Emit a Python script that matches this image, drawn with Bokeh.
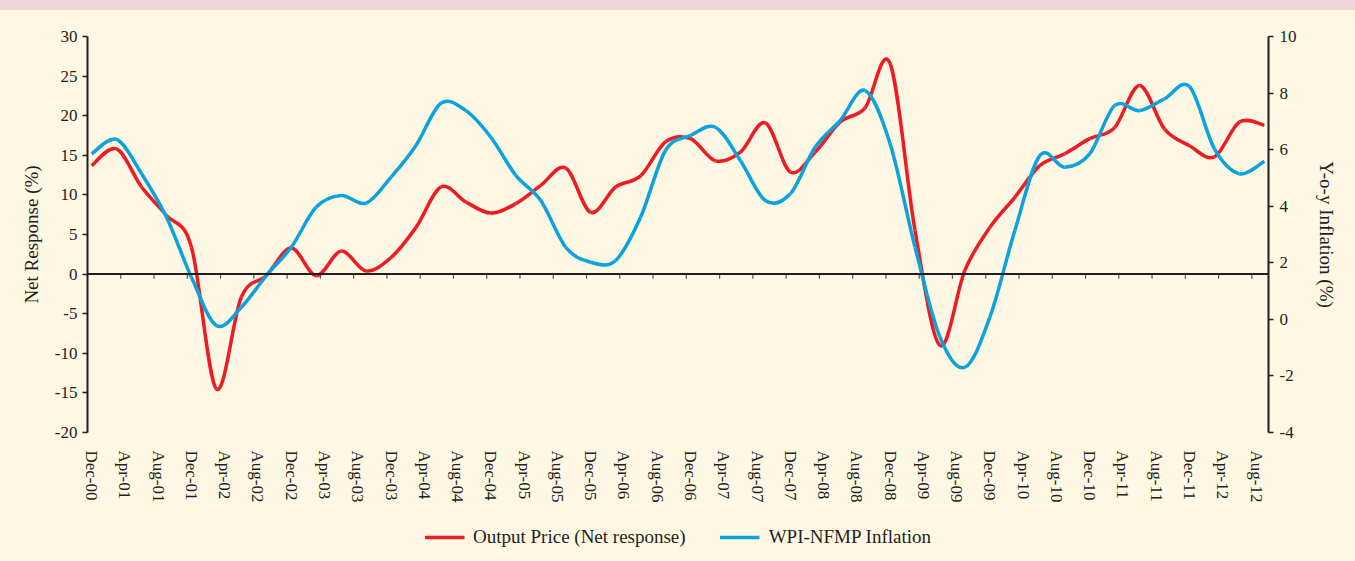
from bokeh.plotting import figure
from bokeh.models import (Range1d, LinearAxis, FixedTicker, Span, Legend, LegendItem, Div)
from bokeh.layouts import column
from bokeh.embed import file_html
from bokeh.resources import INLINE

# ---------------- data (quarterly, Dec-00 .. Sep-12) ----------------
output_price = [13.7, 15.8, 11.0, 7.4, 3.4, -14.5, -2.9, -0.2, 3.3, -0.2, 2.9, 0.4,
                2.1, 5.9, 11.0, 9.1, 7.7, 8.9, 11.2, 13.4, 7.8, 11.0, 12.4, 16.7,
                17.1, 14.3, 15.4, 19.1, 12.9, 15.4, 19.2, 21.0, 26.6, 5.5, -9.0, 0.5,
                5.9, 9.7, 13.7, 15.2, 17.1, 18.5, 23.8, 18.3, 16.2, 14.8, 19.2, 18.8]
wpi_nfmp = [5.85, 6.36, 5.15, 3.61, 1.49, -0.22, 0.43, 1.55, 2.55, 3.97, 4.38, 4.11,
            5.03, 6.15, 7.64, 7.38, 6.44, 5.09, 4.2, 2.55, 2.02, 2.08, 3.61, 5.97,
            6.5, 6.79, 5.62, 4.2, 4.44, 6.09, 7.03, 8.09, 6.21, 2.55, -0.63, -1.69,
            0.08, 3.14, 5.79, 5.38, 5.85, 7.56, 7.38, 7.8, 8.23, 6.03, 5.15, 5.59]
# month offset from Dec-00 for each quarterly observation
months = [3 * i for i in range(len(output_price))]

tick_labels = ["Dec-00", "Apr-01", "Aug-01", "Dec-01", "Apr-02", "Aug-02", "Dec-02",
               "Apr-03", "Aug-03", "Dec-03", "Apr-04", "Aug-04", "Dec-04", "Apr-05",
               "Aug-05", "Dec-05", "Apr-06", "Aug-06", "Dec-06", "Apr-07", "Aug-07",
               "Dec-07", "Apr-08", "Aug-08", "Dec-08", "Apr-09", "Aug-09", "Dec-09",
               "Apr-10", "Aug-10", "Dec-10", "Apr-11", "Aug-11", "Dec-11", "Apr-12",
               "Aug-12"]
label_months = [4 * i for i in range(len(tick_labels))]
left_ticks = [-20, -15, -10, -5, 0, 5, 10, 15, 20, 25, 30]
right_ticks = [-4, -2, 0, 2, 4, 6, 8, 10]
series_names = ["Output Price (Net response)", "WPI-NFMP Inflation"]

# ---------------- styling ----------------
BG = "#fdf7e3"
BAND = "#efd5d9"
INK = "#231f20"
RED = "#ed1c24"
BLUE = "#0ba3de"
FONT = "Liberation Serif"


def smooth_bezier(xs, ys):
    """Control points for a Catmull-Rom style smoothed line (Excel-like)."""
    n = len(xs)
    X = [xs[0]] + list(xs) + [xs[-1]]
    Y = [ys[0]] + list(ys) + [ys[-1]]
    d = dict(x0=[], y0=[], x1=[], y1=[], cx0=[], cy0=[], cx1=[], cy1=[])
    for i in range(1, n):
        d["x0"].append(X[i]); d["y0"].append(Y[i])
        d["x1"].append(X[i + 1]); d["y1"].append(Y[i + 1])
        d["cx0"].append(X[i] + (X[i + 1] - X[i - 1]) / 6.0)
        d["cy0"].append(Y[i] + (Y[i + 1] - Y[i - 1]) / 6.0)
        d["cx1"].append(X[i + 1] - (X[i + 2] - X[i]) / 6.0)
        d["cy1"].append(Y[i + 1] - (Y[i + 2] - Y[i]) / 6.0)
    return d


def hyphen_labels(ticks):
    return {t: str(t) for t in ticks}


p = figure(frame_width=1181, frame_height=396,
           x_range=Range1d(-0.5, 141.5), y_range=Range1d(-20, 30),
           output_backend="svg", toolbar_location=None,
           min_border_left=87, min_border_right=87,
           min_border_top=26, min_border_bottom=80,
           background_fill_color=BG, border_fill_color=BG,
           outline_line_color=None, margin=0)
p.extra_y_ranges = {"infl": Range1d(-4, 10)}
p.xgrid.visible = False
p.ygrid.visible = False

# x axis: only labels at bottom
xa = p.xaxis[0]
xa.ticker = FixedTicker(ticks=label_months)
xa.major_label_overrides = {m: t for m, t in zip(label_months, tick_labels)}
xa.major_label_orientation = "vertical"
xa.axis_line_color = None
xa.major_tick_line_color = None
xa.minor_tick_line_color = None
xa.major_label_standoff = 12
xa.major_label_text_font = FONT
xa.major_label_text_font_size = "17px"
xa.major_label_text_color = INK

# left axis
ya = p.yaxis[0]
ya.ticker = FixedTicker(ticks=left_ticks)
ya.major_label_overrides = hyphen_labels(left_ticks)
ya.axis_label = "Net Response (%)"
ya.axis_label_text_font = FONT
ya.axis_label_text_font_style = "normal"
ya.axis_label_text_font_size = "19px"
ya.axis_label_text_color = INK
ya.axis_label_standoff = 10
ya.major_label_text_font = FONT
ya.major_label_text_font_size = "17px"
ya.major_label_text_color = INK
ya.axis_line_color = INK
ya.axis_line_width = 2
ya.major_tick_line_color = INK
ya.major_tick_line_width = 1.5
ya.major_tick_in = 0
ya.major_tick_out = 5
ya.minor_tick_line_color = None
ya.major_label_standoff = 5

# right axis
ra = LinearAxis(y_range_name="infl", ticker=FixedTicker(ticks=right_ticks),
                axis_label="Y-o-y Inflation (%)")
ra.major_label_overrides = hyphen_labels(right_ticks)
ra.axis_label_text_font = FONT
ra.axis_label_text_font_style = "normal"
ra.axis_label_text_font_size = "19px"
ra.axis_label_text_color = INK
ra.axis_label_standoff = 16
ra.major_label_text_font = FONT
ra.major_label_text_font_size = "17px"
ra.major_label_text_color = INK
ra.axis_line_color = INK
ra.axis_line_width = 2
ra.major_tick_line_color = INK
ra.major_tick_line_width = 1.5
ra.major_tick_in = 0
ra.major_tick_out = 5
ra.minor_tick_line_color = None
ra.major_label_standoff = 6
p.add_layout(ra, "right")

# zero line with category-boundary ticks
p.add_layout(Span(location=0, dimension="width", line_color=INK, line_width=2))
bx = [m - 0.5 for m in label_months[1:]]
p.segment(x0=bx, x1=bx, y0=[0] * len(bx), y1=[-0.6] * len(bx),
          line_color="#555555", line_width=1.2)

# series
rd = smooth_bezier(months, output_price)
bd = smooth_bezier(months, wpi_nfmp)
p.bezier(source=rd, x0="x0", y0="y0", x1="x1", y1="y1",
         cx0="cx0", cy0="cy0", cx1="cx1", cy1="cy1",
         line_color=RED, line_width=3.5)
p.bezier(source=bd, x0="x0", y0="y0", x1="x1", y1="y1",
         cx0="cx0", cy0="cy0", cx1="cx1", cy1="cy1",
         line_color=BLUE, line_width=3.5, y_range_name="infl")

# legend strip (separate small figure under the chart); its swatch lines sit
# outside the visible range so only the legend shows
leg = figure(width=1355, height=49, x_range=Range1d(0, 1), y_range=Range1d(0, 1),
             output_backend="svg", toolbar_location=None,
             x_axis_location=None, y_axis_location=None,
             min_border=0, background_fill_color=BG, background_fill_alpha=0,
             border_fill_color=BG, outline_line_color=None, margin=0)
leg.xgrid.visible = False
leg.ygrid.visible = False
lr = leg.line(x=[5, 6], y=[5, 6], line_color=RED, line_width=3.5)
lb = leg.line(x=[5, 6], y=[5, 6], line_color=BLUE, line_width=3.5)
legend = Legend(items=[LegendItem(label=series_names[0], renderers=[lr]),
                       LegendItem(label=series_names[1], renderers=[lb])],
                orientation="horizontal", location="center",
                border_line_color=None, background_fill_alpha=0,
                label_text_font=FONT, label_text_font_size="19px",
                label_text_color=INK, glyph_width=40, label_standoff=9,
                spacing=34, padding=0, margin=0)
leg.add_layout(legend, "center")

band = Div(text="", width=1355, height=10, margin=0,
           styles={"background-color": BAND})

layout = column(band, p, leg, spacing=0, margin=0,
                styles={"background-color": BG})
open("out.html", "w").write(file_html(layout, INLINE))
